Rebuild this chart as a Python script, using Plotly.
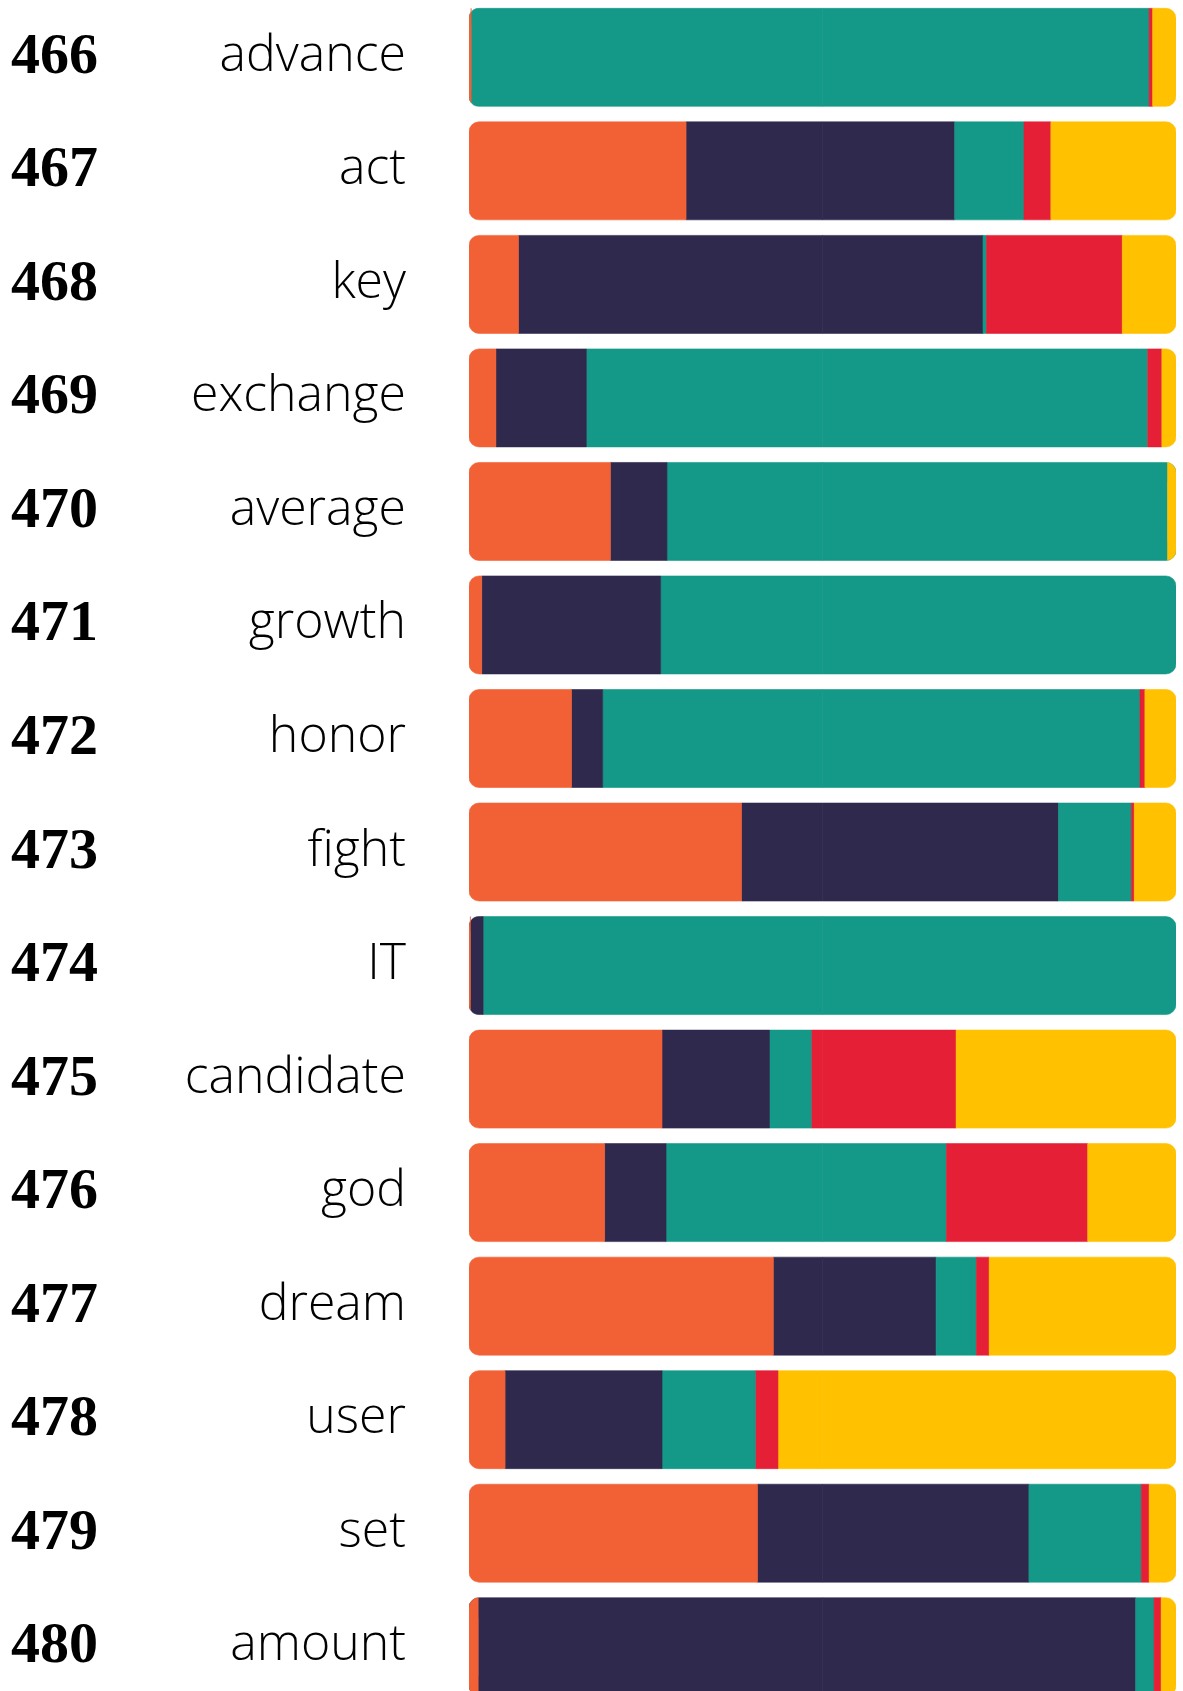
import numpy as np
import plotly.graph_objects as go

ranks = [466, 467, 468, 469, 470, 471, 472, 473, 474, 475, 476, 477, 478, 479, 480]
words = ["advance", "act", "key", "exchange", "average", "growth", "honor", "fight",
         "IT", "candidate", "god", "dream", "user", "set", "amount"]

# share of each category per word (left to right)
orange = [0.3, 30.7, 7.0, 3.8, 20.0, 1.8, 14.5, 38.5, 0.2, 27.3, 19.2, 43.0, 5.1, 40.8, 1.3]
navy = [0.0, 38.0, 65.7, 12.8, 8.0, 25.3, 4.4, 44.8, 1.8, 15.2, 8.7, 23.0, 22.2, 38.4, 93.0]
teal = [95.9, 9.8, 0.5, 79.4, 70.8, 72.9, 76.0, 10.3, 98.0, 5.9, 39.7, 5.7, 13.2, 15.9, 2.6]
red = [0.5, 3.8, 19.2, 2.0, 0.0, 0.0, 0.7, 0.4, 0.0, 20.5, 20.0, 1.8, 3.2, 1.1, 1.0]
yellow = [3.3, 17.7, 7.6, 2.0, 1.2, 0.0, 4.4, 5.9, 0.0, 31.1, 12.5, 26.4, 56.3, 3.8, 2.1]

series = [
    ("orange", orange, "#f26135"),
    ("navy", navy, "#2f294d"),
    ("teal", teal, "#149887"),
    ("red", red, "#e41f36"),
    ("yellow", yellow, "#ffc100"),
]

vals = np.array([s[1] for s in series], dtype=float)
vals = vals / vals.sum(axis=0) * 100
hi = np.cumsum(vals, axis=0)
lo = hi - vals

# split every bar at the midpoint so both outer ends get rounded (relative mode)
mid = 50.0
left = np.clip(np.minimum(hi, mid) - lo, 0, None)
right = np.clip(hi - np.maximum(lo, mid), 0, None)


def edge(piece):
    # thin same-colour outline hides the seam; none on empty pieces
    return np.where(piece > 0, 0.6, 0.0)


fig = go.Figure()
for k in reversed(range(len(series))):
    name, _, color = series[k]
    fig.add_trace(go.Bar(y=words, x=-left[k], orientation="h", name=name,
                         marker=dict(color=color, line=dict(color=color, width=edge(left[k]))),
                         showlegend=False, hoverinfo="skip"))
for k in range(len(series)):
    name, _, color = series[k]
    fig.add_trace(go.Bar(y=words, x=right[k], orientation="h", name=name,
                         marker=dict(color=color, line=dict(color=color, width=edge(right[k]))),
                         showlegend=False, customdata=vals[k],
                         hovertemplate="%{y}: %{customdata:.1f}%<extra></extra>"))

for rank, word in zip(ranks, words):
    fig.add_annotation(x=-0.651, xref="paper", y=word, yref="y", text=f"<b>{rank}</b>",
                       showarrow=False, xanchor="left", yanchor="middle", yshift=4,
                       font=dict(family="Liberation Serif", size=58, color="#000000"))

fig.update_layout(
    width=1183,
    height=1691,
    barmode="relative",
    bargap=0.137,
    barcornerradius=10,
    paper_bgcolor="white",
    plot_bgcolor="white",
    margin=dict(l=469, r=7, t=0, b=0),
)
fig.update_xaxes(range=[-50, 50], visible=False, fixedrange=True)
fig.update_yaxes(
    type="category",
    range=[14.39, -0.505],
    showgrid=False,
    zeroline=False,
    showline=False,
    ticks="",
    ticklabelstandoff=62,
    ticklabelshift=4,
    fixedrange=True,
    tickfont=dict(family="Open Sans", size=50, color="#000000", weight=300),
)

fig.write_html(
    "out.html",
    config={"displayModeBar": False},
    post_script="document.body.style.margin='0';document.body.style.overflow='hidden';",
)
